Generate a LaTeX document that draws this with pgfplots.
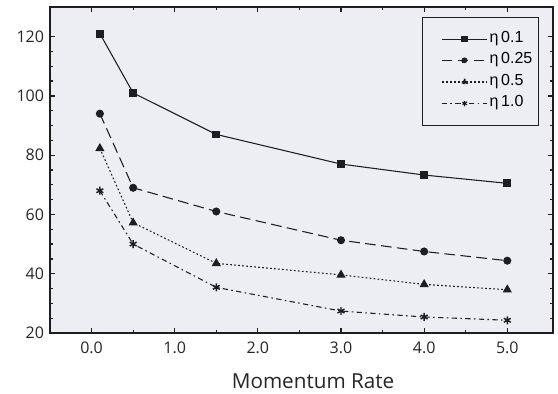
\documentclass[border=0pt]{standalone}
\usepackage{pgfplots}
\pgfplotsset{compat=1.18}
\usepackage{fontspec}
\setmainfont{Open Sans}
\newfontfamily\legfont{Liberation Sans}
\definecolor{bgcol}{RGB}{237,238,243}
\definecolor{ink}{RGB}{30,30,30}
\begin{document}
\begin{tikzpicture}
\begin{axis}[
  scale only axis,
  width=377.25pt, height=244.5pt,
  xmin=-0.5, xmax=5.55,
  ymin=20, ymax=130,
  xtick={0,1,2,3,4,5},
  xticklabels={0.0,1.0,2.0,3.0,4.0,5.0},
  minor x tick num=1,
  ytick={20,40,60,80,100,120},
  minor y tick num=3,
  tick align=inside,
  major tick length=3.75pt,
  minor tick length=2.2pt,
  every tick/.style={ink, line width=0.9pt},
  axis line style={ink, line width=1.1pt},
  axis background/.style={fill=bgcol},
  /pgf/number format/assume math mode=true,
  tick label style={font=\fontsize{12}{14}\selectfont, black!85},
  yticklabel style={xshift=-1pt},
  xticklabel style={anchor=base, yshift=-15.5pt},
  xlabel={Momentum Rate},
  xlabel style={at={(rel axis cs:0.523,0)}, anchor=base, yshift=-42pt, font=\fontsize{15.5}{18}\selectfont, black!85},
  legend style={at={(rel axis cs:0.972,0.970)}, anchor=north east,
    draw=ink, line width=0.8pt, fill=bgcol,
    inner xsep=3pt, inner ysep=8.5pt,
    font=\legfont\fontsize{12}{14}\selectfont,
    nodes={text height=8pt, text depth=3pt, inner ysep=2.5pt, inner xsep=1.5pt}},
  legend cell align=left,
  legend image code/.code={%
    \path (-11pt,0pt);
    \draw[#1, mark=none] (0pt,0pt) -- (34pt,0pt);
    \draw[#1, only marks, mark options={scale=0.75}] plot coordinates {(17pt,0pt)};},
  every axis plot/.append style={ink, line width=0.8pt},
]
\addplot[solid, mark=square*, mark size=2.5pt, mark options={solid}]
  coordinates {(0.1,121) (0.5,101) (1.5,87) (3.0,77) (4.0,73.3) (5.0,70.5)};
\addlegendentry{η\,0.1}
\addplot[dash pattern=on 8pt off 4pt, mark=*, mark size=2.6pt, mark options={solid}]
  coordinates {(0.1,94) (0.5,69) (1.5,61) (3.0,51.3) (4.0,47.5) (5.0,44.4)};
\addlegendentry{η\,0.25}
\addplot[dash pattern=on 1.3pt off 1.7pt, mark=triangle*, mark size=3.2pt, mark options={solid}]
  coordinates {(0.1,82.3) (0.5,57.2) (1.5,43.5) (3.0,39.6) (4.0,36.4) (5.0,34.6)};
\addlegendentry{η\,0.5}
\addplot[dash pattern=on 4pt off 2.5pt on 1.2pt off 2.5pt, mark=asterisk, mark size=3pt, mark options={solid, line width=1.1pt}]
  coordinates {(0.1,68) (0.5,50) (1.5,35.4) (3.0,27.4) (4.0,25.4) (5.0,24.3)};
\addlegendentry{η\,1.0}
\end{axis}
\pgfresetboundingbox
\path ([shift={(-37.5pt,-45.75pt)}]current axis.south west) rectangle ([shift={(3.75pt,5.25pt)}]current axis.north east);
\end{tikzpicture}
\end{document}
